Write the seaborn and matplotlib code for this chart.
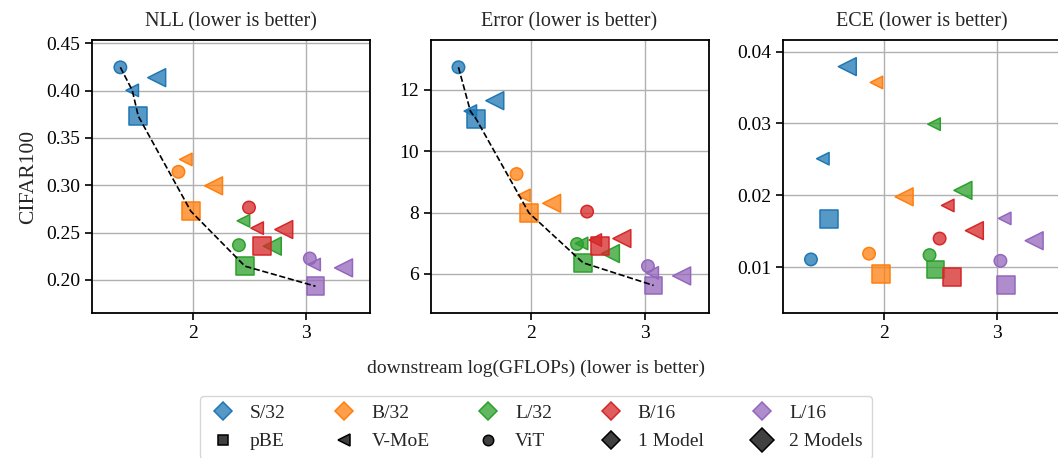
import numpy as np
import pandas as pd
import matplotlib
matplotlib.use("Agg")
import matplotlib.pyplot as plt
from matplotlib.lines import Line2D
import matplotlib.colors as mcolors
import seaborn as sns

# ---------------- data ----------------
models = ["S/32", "B/32", "L/32", "B/16", "L/16"]
# entry order inside each model: ViT (1 model), V-MoE (1 model), V-MoE (2 models), pBE (2 models)
methods = ["ViT", "V-MoE", "V-MoE", "pBE"]
n_models = [1, 1, 2, 2]

gflops = {
    "S/32": [1.357, 1.462, 1.678, 1.515],
    "B/32": [1.870, 1.935, 2.180, 1.979],
    "L/32": [2.404, 2.444, 2.699, 2.457],
    "B/16": [2.493, 2.565, 2.800, 2.606],
    "L/16": [3.030, 3.068, 3.328, 3.080],
}
nll = {
    "S/32": [0.4246, 0.4003, 0.4137, 0.3731],
    "B/32": [0.3142, 0.3273, 0.2994, 0.2726],
    "L/32": [0.2367, 0.2624, 0.2356, 0.2145],
    "B/16": [0.2765, 0.2547, 0.2532, 0.2360],
    "L/16": [0.2226, 0.2162, 0.2127, 0.1933],
}
error = {
    "S/32": [12.74, 11.31, 11.65, 11.04],
    "B/32": [9.256, 8.559, 8.30, 7.99],
    "L/32": [6.97, 6.99, 6.66, 6.36],
    "B/16": [8.03, 7.10, 7.15, 6.91],
    "L/16": [6.25, 6.03, 5.93, 5.62],
}
ece = {
    "S/32": [0.0111, 0.0251, 0.0379, 0.0167],
    "B/32": [0.0119, 0.0357, 0.0198, 0.0091],
    "L/32": [0.0117, 0.0299, 0.0207, 0.0097],
    "B/16": [0.0140, 0.0186, 0.0151, 0.0086],
    "L/16": [0.0109, 0.0168, 0.0137, 0.0075],
}
# points joined by the dashed frontier line (model, entry index)
frontier = [("S/32", 0), ("S/32", 1), ("S/32", 3), ("B/32", 3), ("L/32", 3), ("L/16", 3)]

titles = ["NLL (lower is better)", "Error (lower is better)", "ECE (lower is better)"]
metrics = [nll, error, ece]
show_frontier = [True, True, False]
ylims = [(0.165, 0.4535), (4.72, 13.63), (0.00365, 0.0416)]
yticks = [[0.20, 0.25, 0.30, 0.35, 0.40, 0.45], [6, 8, 10, 12], [0.01, 0.02, 0.03, 0.04]]
ytick_labels = [["0.20", "0.25", "0.30", "0.35", "0.40", "0.45"],
                ["6", "8", "10", "12"],
                ["0.01", "0.02", "0.03", "0.04"]]
xticks = [2, 3]

palette = dict(zip(models, sns.color_palette("tab10", 5)))
marker_map = {"pBE": "s", "V-MoE": "<", "ViT": "o"}
size_map = {1: 80, 2: 165}

# ---------------- style ----------------
sns.set_style("ticks")
plt.rcParams["font.family"] = "serif"
plt.rcParams["font.serif"] = ["Liberation Serif", "DejaVu Serif"]
plt.rcParams["mathtext.fontset"] = "stix"
FS = 14

fig = plt.figure(figsize=(10.58, 4.58), dpi=100)
W, H = 1058.0, 458.0
lefts = [92.4, 430.5, 783.0]
for i in range(3):
    ax = fig.add_axes([lefts[i] / W, (H - 313) / H, 278 / W, 273 / H])
    rows = []
    for m in models:
        for j in range(4):
            rows.append(dict(model=m, method=methods[j], n=n_models[j],
                             x=gflops[m][j], y=metrics[i][m][j]))
    df = pd.DataFrame(rows)
    sns.scatterplot(data=df, x="x", y="y", hue="model", hue_order=models,
                    palette=palette, style="method", markers=marker_map,
                    size="n", sizes=size_map, legend=False, linewidth=1.1,
                    ax=ax, zorder=3)
    coll = ax.collections[0]
    fc = coll.get_facecolors()
    ec = fc.copy()
    ec[:, 3] = 1.0
    fc2 = fc.copy()
    fc2[:, 3] = 0.75
    coll.set_facecolors(fc2)
    coll.set_edgecolors(ec)

    if show_frontier[i]:
        fx = [gflops[m][j] for m, j in frontier]
        fy = [metrics[i][m][j] for m, j in frontier]
        sns.lineplot(x=fx, y=fy, color="black", linestyle="--", linewidth=1.2,
                     estimator=None, sort=False, ax=ax, zorder=4)

    ax.set_xlim(1.11, 3.565)
    ax.set_ylim(*ylims[i])
    ax.set_xticks(xticks)
    ax.set_xticklabels([str(t) for t in xticks])
    ax.set_yticks(yticks[i])
    ax.set_yticklabels(ytick_labels[i])
    ax.grid(True, color="#b0b0b0", linewidth=1.0)
    ax.set_axisbelow(True)
    for s in ax.spines.values():
        s.set_linewidth(1.3)
        s.set_color("black")
    ax.tick_params(direction="out", length=5, width=1.2, labelsize=FS, colors="black")
    ax.set_xlabel("")
    ax.set_ylabel("CIFAR100" if i == 0 else "", fontsize=FS + 1.5, labelpad=6)
    ax.set_title(titles[i], fontsize=FS + 0.5, pad=10)

fig.text(536 / W, 1 - 368 / H, "downstream log(GFLOPs) (lower is better)",
         ha="center", va="center", fontsize=FS)

# ---------------- legend ----------------
def col_handle(c):
    rgba_f = mcolors.to_rgba(c, 0.75)
    return Line2D([], [], marker="D", linestyle="none", markersize=9,
                  markerfacecolor=rgba_f, markeredgecolor=c, markeredgewidth=1.1)

dark = "#404040"
def blk(marker, ms):
    return Line2D([], [], marker=marker, linestyle="none", markersize=ms,
                  markerfacecolor=dark, markeredgecolor="black", markeredgewidth=1.1)

row1 = [(col_handle(palette[m]), m) for m in models]
row2 = [(blk("s", 7.5), "pBE"), (blk("<", 8), "V-MoE"), (blk("o", 7.5), "ViT"),
        (blk("D", 9), "1 Model"), (blk("D", 12.5), "2 Models")]
handles, labels = [], []
for a, b in zip(row1, row2):
    handles += [a[0], b[0]]
    labels += [a[1], b[1]]
leg = fig.legend(handles, labels, ncol=5, loc="upper center",
                 bbox_to_anchor=(536 / W, 1 - 386 / H), fontsize=FS,
                 frameon=True, fancybox=True, edgecolor="#cccccc",
                 handletextpad=0.7, columnspacing=2.3, borderpad=0.45,
                 labelspacing=0.55, handlelength=1.4)

fig.savefig("out.png", dpi=100)
